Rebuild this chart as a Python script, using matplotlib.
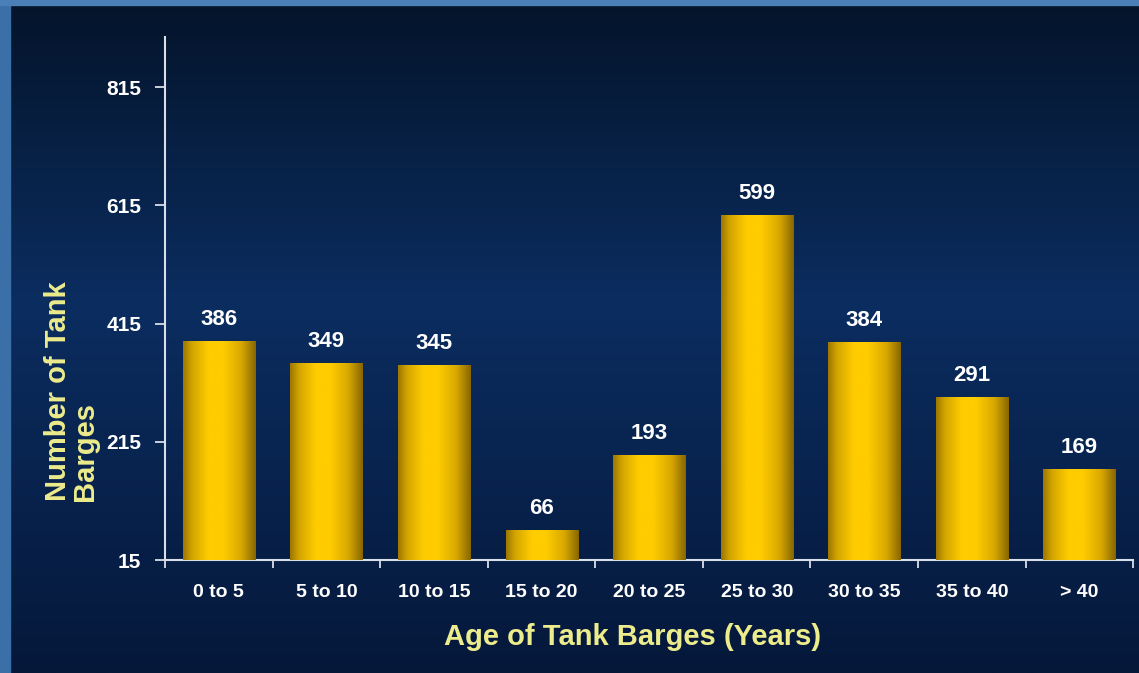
import matplotlib.pyplot as plt
import numpy as np
from matplotlib.colors import LinearSegmentedColormap

categories = ["0 to 5", "5 to 10", "10 to 15", "15 to 20", "20 to 25",
              "25 to 30", "30 to 35", "35 to 40", "> 40"]
barges = [386, 349, 345, 66, 193, 599, 384, 291, 169]
y_ticks = [15, 215, 415, 615, 815]

plt.rcParams['font.family'] = ['Liberation Sans', 'DejaVu Sans']

fig = plt.figure(figsize=(11.39, 6.73), dpi=100)

# background: navy vertical gradient with a light blue frame top/left
bg = fig.add_axes([0, 0, 1, 1], zorder=-10)
bg_cmap = LinearSegmentedColormap.from_list(
    "bg", [(0, "#04142a"), (0.45, "#0b2d60"), (1.0, "#05183a")])
grad = np.linspace(0, 1, 256).reshape(-1, 1)
bg.imshow(grad, cmap=bg_cmap, aspect='auto', extent=[0, 1, 0, 1])
bg.add_patch(plt.Rectangle((0, 0), 0.009, 1, color="#3a6fa8", zorder=2))
bg.add_patch(plt.Rectangle((0, 0.992), 1, 0.008, color="#4a7fb8", zorder=2))
bg.set_xlim(0, 1)
bg.set_ylim(0, 1)
bg.axis('off')

ax = fig.add_axes([0.1449, 0.1679, 0.85, 0.777])
ax.patch.set_alpha(0)

bar_cmap = LinearSegmentedColormap.from_list(
    "gold", [(0, "#9c7600"), (0.12, "#d2a400"), (0.35, "#ffcc00"),
             (0.55, "#ffcc00"), (0.8, "#d8a800"), (1.0, "#866600")])
xs = np.arange(len(categories))
bars = ax.bar(xs, [v - 15 for v in barges], bottom=15, width=0.67,
              color="#ffcc00", zorder=2)
hgrad = np.linspace(0, 1, 256).reshape(1, -1)
for b in bars:
    x0, y0 = b.get_x(), b.get_y()
    im = ax.imshow(hgrad, cmap=bar_cmap, aspect='auto', zorder=3,
                   extent=[x0, x0 + b.get_width(), y0, y0 + b.get_height()])
    im.set_clip_path(b)

for x, v in zip(xs, barges):
    ax.annotate(str(v), (x, v), xytext=(0, 8), textcoords='offset points',
                ha='center', va='bottom', color='white', fontsize=16,
                fontweight='bold', zorder=4)

ax.set_xlim(-0.5, len(categories) - 0.5)
ax.set_ylim(15, 900)

ax.set_yticks(y_ticks)
ax.set_xticks(xs)
ax.set_xticklabels(categories)
ax.set_xticks(np.arange(-0.5, len(categories)), minor=True)
ax.tick_params(axis='x', which='major', length=0, pad=17, labelsize=14,
               labelcolor='white')
ax.tick_params(axis='x', which='minor', length=6, width=1.3, color='#d8dfe8',
               direction='out')
ax.tick_params(axis='y', length=7, width=1.3, color='#d8dfe8', pad=10,
               labelsize=15, labelcolor='white')
for lab in ax.get_xticklabels() + ax.get_yticklabels():
    lab.set_fontweight('bold')

for side in ['top', 'right']:
    ax.spines[side].set_visible(False)
for side in ['left', 'bottom']:
    ax.spines[side].set_color('#d8dfe8')
    ax.spines[side].set_linewidth(1.5)

ax.set_xlabel("Age of Tank Barges (Years)", color='#ecec8c', fontsize=21,
              fontweight='bold')
ax.xaxis.set_label_coords(0.483, -0.12)
fig.text(0.063, 0.419, "Number of Tank\nBarges", rotation=90, color='#ecec8c',
         fontsize=21, fontweight='bold', ha='center', va='center',
         multialignment='left', linespacing=0.95)

fig.savefig("out.png", dpi=100)
